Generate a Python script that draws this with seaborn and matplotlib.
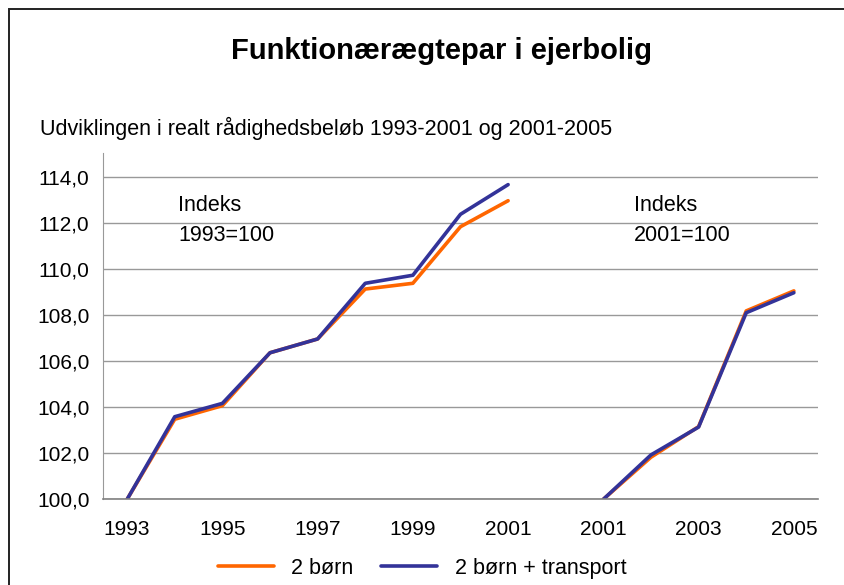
import pandas as pd
import matplotlib.pyplot as plt
import matplotlib.patches as patches
import seaborn as sns
import numpy as np

# Data -------------------------------
years_1 = ["1993", "1994", "1995", "1996", "1997", "1998", "1999", "2000", "2001"]
years_2 = ["2001", "2002", "2003", "2004", "2005"]
born_1 = [100.0, 103.48, 104.07, 106.37, 106.97, 109.14, 109.39, 111.85, 112.98]
transport_1 = [100.0, 103.59, 104.17, 106.37, 106.97, 109.39, 109.74, 112.39, 113.68]
born_2 = [100.0, 101.83, 103.16, 108.19, 109.06]
transport_2 = [100.0, 101.93, 103.14, 108.11, 108.98]
series_names = ["2 børn", "2 børn + transport"]
tick_labels = ["1993", "1995", "1997", "1999", "2001", "2001", "2003", "2005"]
y_ticks = [100, 102, 104, 106, 108, 110, 112, 114]

# category axis: 1993-2001, one empty slot, 2001-2005
categories = years_1 + [""] + years_2
pos_1 = list(range(len(years_1)))
pos_2 = list(range(len(years_1) + 1, len(categories)))

rows = []
for p, y, v1, v2 in zip(pos_1, years_1, born_1, transport_1):
    rows.append((p, y, "1993-2001", series_names[0], v1))
    rows.append((p, y, "1993-2001", series_names[1], v2))
for p, y, v1, v2 in zip(pos_2, years_2, born_2, transport_2):
    rows.append((p, y, "2001-2005", series_names[0], v1))
    rows.append((p, y, "2001-2005", series_names[1], v2))
df = pd.DataFrame(rows, columns=["pos", "aar", "periode", "serie", "indeks"])

sns.set_style("white")
plt.rcParams['font.family'] = ['Liberation Sans', 'DejaVu Sans']
plt.rcParams['text.color'] = 'black'
plt.rcParams['xtick.color'] = 'black'
plt.rcParams['ytick.color'] = 'black'

fig = plt.figure(figsize=(8.44, 5.85), dpi=100)
ax = fig.add_axes([0.1224, 0.1465, 0.8464, 0.5914])

sns.lineplot(data=df, x="pos", y="indeks", hue="serie", units="periode",
             estimator=None, palette={series_names[0]: "#FF6600", series_names[1]: "#333399"},
             linewidth=2.6, ax=ax)

handles, labels = ax.get_legend_handles_labels()
ax.get_legend().remove()

ax.set_xlim(-0.5, len(categories) - 0.5)
ax.set_ylim(100, 115.04)
ax.set_xticks(np.arange(0, len(categories), 2))
ax.set_xticklabels(tick_labels)
ax.set_xticks(np.arange(-0.5, len(categories), 1), minor=True)
ax.tick_params(axis="x", which="major", length=0, labelsize=15, pad=15, labelcolor="black")
ax.tick_params(axis="x", which="minor", length=6, width=1, color="#808080", direction="out")
ax.set_yticks(y_ticks)
ax.set_yticklabels([f"{t:.1f}".replace(".", ",") for t in y_ticks])
ax.tick_params(axis="y", length=6, width=1, color="#999999", direction="out", labelsize=15,
               pad=4, labelcolor="black")
ax.set_xlabel("")
ax.set_ylabel("")
ax.yaxis.grid(True, color="#999999", linewidth=1)
ax.xaxis.grid(False)
for s in ["top", "right"]:
    ax.spines[s].set_visible(False)
ax.spines["left"].set_color("#999999")
ax.spines["bottom"].set_color("#808080")
ax.spines["bottom"].set_linewidth(1.2)

ax.text(1.07, 113.25, "Indeks\n1993=100", fontsize=15.5, va="top", ha="left", linespacing=1.6)
ax.text(10.64, 113.25, "Indeks\n2001=100", fontsize=15.5, va="top", ha="left", linespacing=1.6)

fig.text(0.523, 0.913, "Funktionærægtepar i ejerbolig", fontsize=21, fontweight="bold",
         ha="center", va="center")
fig.text(0.047, 0.781, "Udviklingen i realt rådighedsbeløb 1993-2001 og 2001-2005", fontsize=15.5,
         ha="left", va="center")

fig.legend(handles, labels, loc="center", bbox_to_anchor=(0.5, 0.029), ncol=2, frameon=False,
           fontsize=15.5, handlelength=2.6, columnspacing=1.3, handletextpad=0.8)

# outer chart border (open to the right and bottom)
fig.patches.append(patches.Rectangle((9 / 844, -0.1), 1.0, 1 - 9 / 585 + 0.1,
                                     transform=fig.transFigure, fill=False,
                                     edgecolor="#222222", linewidth=1.4))

fig.savefig("out.png", dpi=100)
